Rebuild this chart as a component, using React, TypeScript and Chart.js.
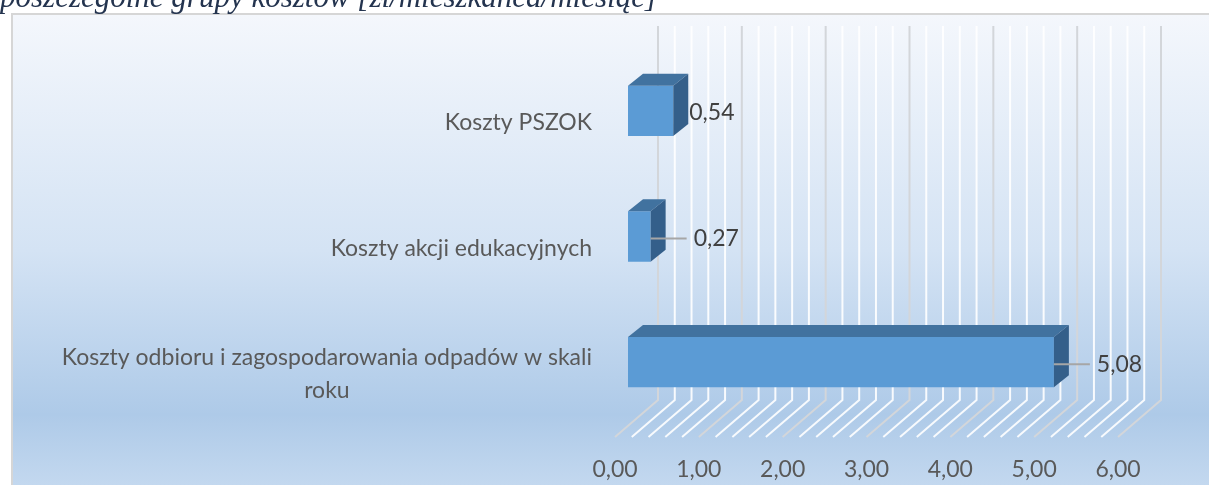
import React, { useEffect, useRef } from "react";
import { Chart, registerables } from "chart.js";

Chart.register(...registerables);

const TITLE = "poszczególne grupy kosztów [zł/mieszkańca/miesiąc]";
const categories: string[][] = [
  ["Koszty PSZOK"],
  ["Koszty akcji edukacyjnych"],
  ["Koszty odbioru i zagospodarowania odpadów w skali", "roku"],
];
const values = [0.54, 0.27, 5.08];
const valueLabels = ["0,54", "0,27", "5,08"];
const tickValues = [0, 1, 2, 3, 4, 5, 6];
const tickLabels = ["0,00", "1,00", "2,00", "3,00", "4,00", "5,00", "6,00"];

// label placement offsets (px right of bar front end) – style only
const LABEL_GAP = [16, 43, 43];

const FONT = "Lato, 'Open Sans', sans-serif";
const BAR_DX = 15, BAR_DY = -12; // bar depth
const WALL_DX = 30, WALL_DY = -25; // back wall
const FRONT_DX = -13, FRONT_DY = 12; // front plane

const scene3d = {
  id: "scene3d",
  beforeDraw(chart: any) {
    const ctx = chart.ctx;
    const W = chart.width, H = chart.height;
    ctx.save();
    ctx.fillStyle = "#ffffff";
    ctx.fillRect(0, 0, W, H);
    const g = ctx.createLinearGradient(0, 15, 0, H);
    g.addColorStop(0, "#f4f7fc");
    g.addColorStop(0.5, "#d4e3f4");
    g.addColorStop(0.85, "#aecae8");
    g.addColorStop(1, "#c3d8ef");
    ctx.fillStyle = g;
    ctx.fillRect(12, 14, W - 12, H - 14);
    ctx.strokeStyle = "#d6d6d6";
    ctx.lineWidth = 2;
    ctx.beginPath();
    ctx.moveTo(12, H);
    ctx.lineTo(12, 14);
    ctx.lineTo(W, 14);
    ctx.stroke();
    ctx.restore();
  },
  beforeDatasetsDraw(chart: any) {
    const ctx = chart.ctx;
    const xs = chart.scales.x;
    const { top, bottom } = chart.chartArea;
    const wallTop = top - 22;
    const wallBottom = bottom + WALL_DY;
    const floorFront = bottom + FRONT_DY;
    ctx.save();
    ctx.lineWidth = 2;
    const drawLine = (v: number) => {
      const x = xs.getPixelForValue(v);
      ctx.beginPath();
      ctx.moveTo(x + WALL_DX, wallTop);
      ctx.lineTo(x + WALL_DX, wallBottom);
      ctx.lineTo(x + FRONT_DX, floorFront);
      ctx.stroke();
    };
    ctx.strokeStyle = "rgba(255,255,255,0.9)";
    for (let i = 0; i <= 30; i++) {
      if (i % 5 !== 0) drawLine(i * 0.2);
    }
    ctx.strokeStyle = "#d3d6da";
    tickValues.forEach((v) => drawLine(v));
    ctx.restore();
  },
  afterDatasetsDraw(chart: any) {
    const ctx = chart.ctx;
    const meta = chart.getDatasetMeta(0);
    ctx.save();
    meta.data.forEach((bar: any, i: number) => {
      const { x, y, base, height } = bar.getProps(["x", "y", "base", "height"], true);
      const t = y - height / 2;
      const b = y + height / 2;
      // top face
      ctx.fillStyle = "#41729f";
      ctx.beginPath();
      ctx.moveTo(base, t);
      ctx.lineTo(x, t);
      ctx.lineTo(x + BAR_DX, t + BAR_DY);
      ctx.lineTo(base + BAR_DX, t + BAR_DY);
      ctx.closePath();
      ctx.fill();
      // side face
      ctx.fillStyle = "#345f8a";
      ctx.beginPath();
      ctx.moveTo(x, t);
      ctx.lineTo(x + BAR_DX, t + BAR_DY);
      ctx.lineTo(x + BAR_DX, b + BAR_DY);
      ctx.lineTo(x, b);
      ctx.closePath();
      ctx.fill();
      // leader line + value label
      const gap = LABEL_GAP[i];
      const ly = y + 2;
      if (gap > BAR_DX + 10) {
        ctx.strokeStyle = "#a6a6a6";
        ctx.lineWidth = 2;
        ctx.beginPath();
        ctx.moveTo(x, ly);
        ctx.lineTo(x + gap - 7, ly);
        ctx.stroke();
      }
      ctx.fillStyle = "#404040";
      ctx.font = `23px ${FONT}`;
      ctx.textAlign = "left";
      ctx.textBaseline = "middle";
      ctx.fillText(valueLabels[i], x + gap, ly);
    });
    ctx.restore();
  },
  afterDraw(chart: any) {
    const ctx = chart.ctx;
    const xs = chart.scales.x;
    const ys = chart.scales.y;
    const { left, bottom } = chart.chartArea;
    ctx.save();
    ctx.font = `23px ${FONT}`;
    ctx.fillStyle = "#595959";
    ctx.textBaseline = "middle";
    ctx.textAlign = "center";
    tickValues.forEach((v, i) => {
      ctx.fillText(tickLabels[i], xs.getPixelForValue(v) + FRONT_DX, bottom + 45);
    });
    const rightEdge = left - 36;
    const lineH = 33;
    categories.forEach((lines, i) => {
      const cy = ys.getPixelForValue(i) + FRONT_DY;
      const maxW = Math.max(...lines.map((l) => ctx.measureText(l).width));
      const cx = rightEdge - maxW / 2;
      const y0 = cy - ((lines.length - 1) * lineH) / 2;
      lines.forEach((l, k) => ctx.fillText(l, cx, y0 + k * lineH));
    });
    ctx.restore();
  },
};

export default function App() {
  const ref = useRef<HTMLCanvasElement | null>(null);
  useEffect(() => {
    if (!ref.current) return;
    const chart = new Chart(ref.current, {
      type: "bar",
      data: {
        labels: categories.map((c) => c.join(" ")),
        datasets: [
          {
            data: values,
            backgroundColor: "#5b9bd5",
            borderWidth: 0,
            barPercentage: 0.4,
            categoryPercentage: 1,
          },
        ],
      },
      options: {
        indexAxis: "y",
        animation: false,
        responsive: false,
        devicePixelRatio: 1,
        layout: { padding: { left: 628, right: 78, top: 48, bottom: 60 } },
        plugins: { legend: { display: false }, tooltip: { enabled: false }, title: { display: false } },
        scales: {
          x: { type: "linear", min: 0, max: 6, display: false, grid: { display: false } },
          y: { type: "category", display: false, grid: { display: false } },
        },
      },
      plugins: [scene3d],
    });
    return () => chart.destroy();
  }, []);
  return (
    <div style={{ position: "fixed", left: 0, top: 0, width: 1209, height: 485, overflow: "hidden", background: "#fff" }}>
      <canvas ref={ref} width={1209} height={485} style={{ position: "absolute", left: 0, top: 0, display: "block" }} />
      <div
        style={{
          position: "absolute",
          left: 0,
          top: -15,
          fontFamily: "'Liberation Serif', 'DejaVu Serif', serif",
          fontStyle: "italic",
          fontSize: 31,
          lineHeight: "24px",
          color: "#24344f",
          whiteSpace: "nowrap",
        }}
      >
        {TITLE}
      </div>
    </div>
  );
}
